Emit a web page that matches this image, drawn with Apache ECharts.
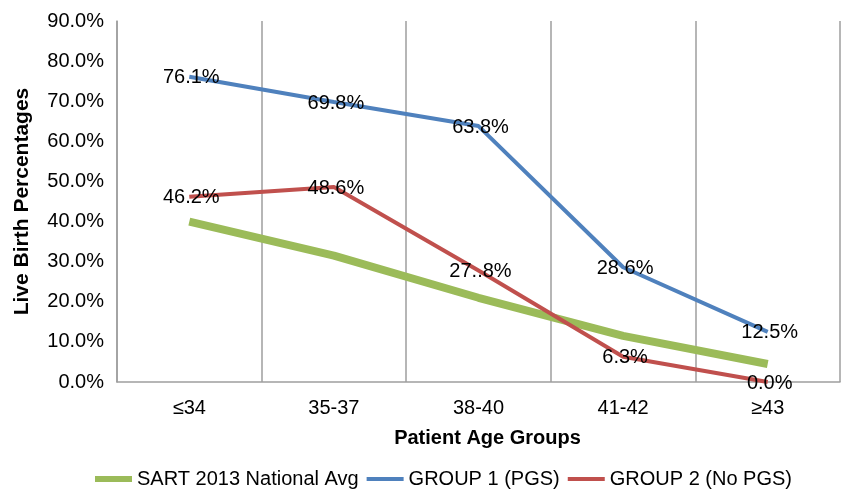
<!DOCTYPE html>
<html>
<head>
<meta charset="utf-8">
<script src="https://cdn.jsdelivr.net/npm/echarts@6/dist/echarts.min.js"></script>
<style>
html,body{margin:0;padding:0;background:#fff;}
#chart{width:841px;height:491px;}
</style>
</head>
<body>
<div id="chart"></div>
<script>
const categories = ['≤34', '35-37', '38-40', '41-42', '≥43'];
const sartValues = [40.0, 31.5, 21.0, 11.5, 4.5];
const group1Values = [76.1, 69.8, 63.8, 28.6, 12.5];
const group2Values = [46.2, 48.6, 27.8, 6.3, 0.0];
const group1Labels = ['76.1%', '69.8%', '63.8%', '28.6%', '12.5%'];
const group2Labels = ['46.2%', '48.6%', '27..8%', '6.3%', '0.0%'];
const seriesNames = ['SART 2013 National Avg', 'GROUP 1 (PGS)', 'GROUP 2 (No PGS)'];
const yTicks = { min: 0, max: 90, interval: 10 };

const FONT = '"Liberation Sans", Arial, Helvetica, sans-serif';
const chart = echarts.init(document.getElementById('chart'));

// thinner legend bar drawn inside a 6px tall box (zero-area corner marks keep the box size)
const THIN_ICON = 'path://M0,0L0.01,0L0,0.01Z M0,1L37,1L37,5L0,5Z M37,6L36.99,6L37,5.99Z';

function labelCfg(texts) {
  return {
    show: true,
    position: 'inside',
    offset: [2, 1],
    color: '#000',
    fontFamily: FONT,
    fontSize: 20,
    formatter: p => texts[p.dataIndex]
  };
}

chart.setOption({
  animation: false,
  backgroundColor: '#fff',
  textStyle: { fontFamily: FONT },
  grid: { left: 117, right: 1, top: 21, bottom: 109, containLabel: false },
  legend: {
    top: 464,
    left: 90,
    itemWidth: 37,
    itemHeight: 6,
    itemGap: 8,
    textStyle: { fontSize: 20, color: '#000', fontFamily: FONT },
    data: [
      { name: seriesNames[0], icon: 'rect' },
      { name: seriesNames[1], icon: THIN_ICON },
      { name: seriesNames[2], icon: THIN_ICON }
    ]
  },
  xAxis: {
    type: 'category',
    data: categories,
    boundaryGap: true,
    name: 'Patient Age Groups',
    nameLocation: 'middle',
    nameGap: 46,
    nameTextStyle: { fontSize: 20, fontWeight: 'bold', color: '#000', fontFamily: FONT, padding: [0, 0, 0, 18] },
    axisLine: { show: true, lineStyle: { color: '#9e9e9e', width: 1.5 } },
    axisTick: { show: false },
    axisLabel: { fontSize: 20, color: '#000', margin: 16, fontFamily: FONT },
    splitLine: { show: true, interval: 0, lineStyle: { color: '#9e9e9e', width: 1.5 } }
  },
  yAxis: {
    type: 'value',
    min: yTicks.min,
    max: yTicks.max,
    interval: yTicks.interval,
    name: 'Live Birth Percentages',
    nameLocation: 'middle',
    nameGap: 84,
    nameRotate: 90,
    nameTextStyle: { fontSize: 21, fontWeight: 'bold', color: '#000', fontFamily: FONT },
    axisLine: { show: true, lineStyle: { color: '#9e9e9e', width: 1.5 } },
    axisTick: { show: false },
    splitLine: { show: false },
    axisLabel: { fontSize: 20, color: '#000', margin: 13, fontFamily: FONT, formatter: v => v.toFixed(1) + '%' }
  },
  series: [
    {
      name: seriesNames[0],
      type: 'line',
      data: sartValues,
      symbol: 'none',
      color: '#9BBB59',
      lineStyle: { width: 8, color: '#9BBB59' },
      z: 1
    },
    {
      name: seriesNames[1],
      type: 'line',
      data: group1Values,
      symbol: 'circle',
      symbolSize: 0.1,
      showSymbol: true,
      color: '#4F81BD',
      lineStyle: { width: 4, color: '#4F81BD' },
      label: labelCfg(group1Labels),
      z: 2
    },
    {
      name: seriesNames[2],
      type: 'line',
      data: group2Values,
      symbol: 'circle',
      symbolSize: 0.1,
      showSymbol: true,
      color: '#C0504D',
      lineStyle: { width: 4, color: '#C0504D' },
      label: labelCfg(group2Labels),
      z: 3
    }
  ]
});
</script>
</body>
</html>
